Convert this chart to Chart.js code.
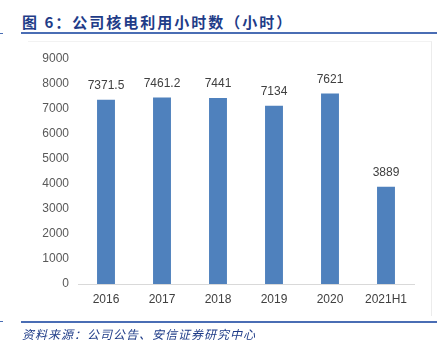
<!DOCTYPE html>
<html>
<head>
<meta charset="utf-8">
<script src="https://cdn.jsdelivr.net/npm/chart.js@4"></script>
<style>
  body { margin: 0; background: #fff; width: 442px; height: 349px; overflow: hidden; position: relative; }
  #title { position: absolute; left: 22px; top: 11px; font: bold 15px "Noto Sans CJK SC", sans-serif; letter-spacing: 2px; color: #1f3c88; white-space: nowrap; }
  #titleLine { position: absolute; left: 21px; top: 32px; width: 416px; height: 2px; background: #4a6db4; }
  #leftMark { position: absolute; left: 0; top: 33px; width: 3px; height: 1px; background: #4a6db4; }
  #box { position: absolute; left: 28px; top: 41px; width: 403px; height: 274px; border-top: 1px solid #f2f2f2; border-right: 1px solid #ececec; }
  #footLine { position: absolute; left: 21px; top: 321px; width: 416px; height: 2px; background: #4a6db4; }
  #footMark { position: absolute; left: 0; top: 321px; width: 3px; height: 1px; background: #4a6db4; }
  #foot { position: absolute; left: 22px; top: 325px; font: italic 12px "Noto Sans CJK SC", sans-serif; letter-spacing: 1px; color: #1f3c88; white-space: nowrap; }
  #wrap { position: absolute; left: 0; top: 0; width: 442px; height: 349px; }
</style>
</head>
<body>
<div id="title">图 6：公司核电利用小时数（小时）</div>
<div id="leftMark"></div>
<div id="titleLine"></div>
<div id="box"></div>
<div id="wrap"><canvas id="chartData"></canvas></div>
<div id="footMark"></div>
<div id="footLine"></div>
<div id="foot">资料来源：公司公告、安信证券研究中心</div>
<script>
const years = ['2016', '2017', '2018', '2019', '2020', '2021H1'];
const hours = [7371.5, 7461.2, 7441, 7134, 7621, 3889];
const yTicks = [0, 1000, 2000, 3000, 4000, 5000, 6000, 7000, 8000, 9000];

// value labels above each bar
const barLabels = {
    id: 'barLabels',
    afterDatasetsDraw(chart) {
        const ctx = chart.ctx;
        const meta = chart.getDatasetMeta(0);
        ctx.save();
        ctx.font = '12px "Liberation Sans", Arial, sans-serif';
        ctx.fillStyle = '#404040';
        ctx.textAlign = 'center';
        ctx.textBaseline = 'middle';
        meta.data.forEach((bar, i) => {
            ctx.fillText(String(hours[i]), bar.x, bar.y - 14);
        });
        ctx.restore();
    }
};

const ctx = document.getElementById('chartData');

new Chart(ctx, {
    type: 'bar',
    data: {
        labels: years,
        datasets: [{
            data: hours,
            backgroundColor: '#4f81bd',
            borderWidth: 0,
            categoryPercentage: 1,
            barPercentage: 0.32
        }]
    },
    options: {
        responsive: true,
        maintainAspectRatio: false,
        animation: false,
        layout: { padding: { top: 59, right: 28, bottom: 35, left: 0 } },
        plugins: { legend: { display: false }, tooltip: { enabled: false } },
        scales: {
            x: {
                grid: { display: false, drawTicks: false },
                border: { color: '#d9d9d9', width: 1 },
                ticks: {
                    color: '#404040',
                    font: { family: '"Liberation Sans", Arial, sans-serif', size: 12 },
                    padding: 8
                },
                afterFit(scale) { scale.height = 30; }
            },
            y: {
                min: 0,
                max: 9000,
                grid: { display: false, drawTicks: false },
                border: { display: false },
                afterBuildTicks(scale) { scale.ticks = yTicks.map(v => ({ value: v })); },
                ticks: {
                    color: '#595959',
                    font: { family: '"Liberation Sans", Arial, sans-serif', size: 12 },
                    padding: 9,
                    callback: (v) => String(v)
                },
                afterFit(scale) { scale.width = 78; }
            }
        }
    },
    plugins: [barLabels]
});
</script>
</body>
</html>
